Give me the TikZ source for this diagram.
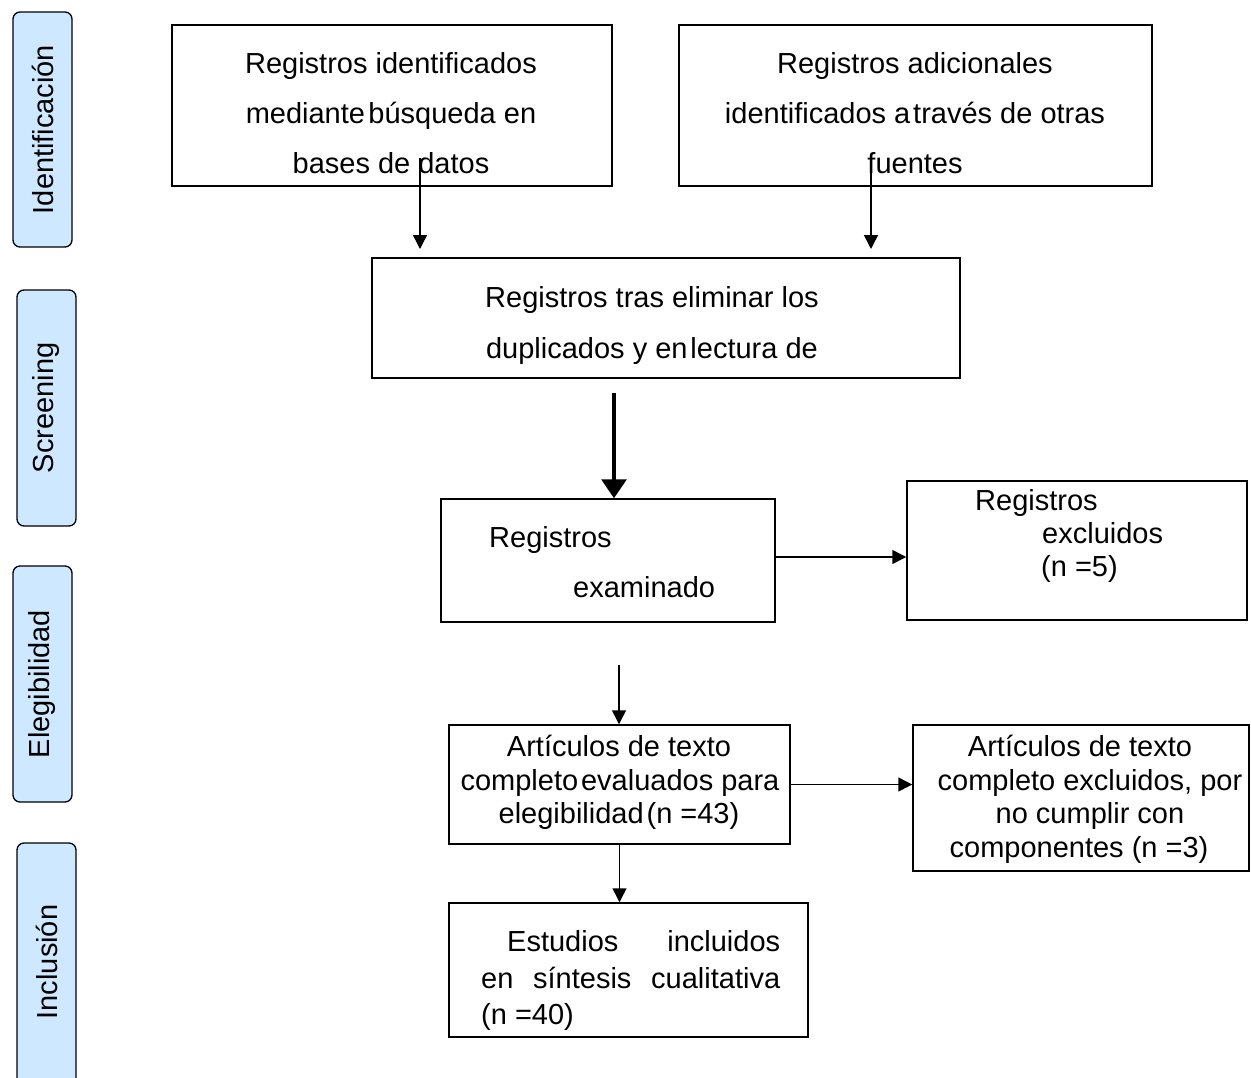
\documentclass[tikz,border=0pt]{standalone}
\usepackage{fontspec}
\setmainfont{Liberation Sans}
\usetikzlibrary{arrows.meta,calc}
\definecolor{tabblue}{RGB}{206,233,255}
\begin{document}
\begin{tikzpicture}[x=1pt,y=-1pt,
  tab/.style={draw=black,fill=tabblue,rounded corners=7pt,line width=1.3pt,minimum width=59pt,inner sep=0pt},
  tabtxt/.style={rotate=90,font=\fontsize{29}{34}\selectfont,inner sep=0pt},
  box/.style={draw=black,line width=1.5pt,inner sep=0pt},
  txt/.style={font=\fontsize{29}{34}\selectfont,inner sep=0pt,anchor=base},
  txtw/.style={font=\fontsize{29}{34}\selectfont,inner sep=0pt,anchor=base west},
  arr/.style={line width=1.5pt,-{Triangle[width=14pt,length=14pt]}},
  bigarr/.style={line width=3.2pt,-{Triangle[width=25pt,length=19pt]}}]
\useasboundingbox (0,0) rectangle (1251,1077);
% side tabs
\node[tab,minimum height=235pt] (t1) at (42.5,129.5) {};
\node[tabtxt] (t1l) at (t1.center) {Identificación};
\node[tab,minimum height=236pt] (t2) at (46.5,408) {};
\node[tabtxt] (t2l) at (t2.center) {Screening};
\node[tab,minimum height=236pt] (t3) at (42.5,684) {};
\node[tabtxt] (t3l) at (t3.center) {Elegibilidad};
\node[tab,minimum height=250pt] (t4) at (46.5,968) {};
\node[tabtxt] (t4l) at (46.5,962) {Inclusión};
% boxes
\node[box,minimum width=440pt,minimum height=161pt] (b1) at (392,105.5) {};
\node[box,minimum width=473pt,minimum height=161pt] (b2) at (915.5,105.5) {};
\node[box,minimum width=588pt,minimum height=120pt] (b3) at (666,318) {};
\node[box,minimum width=334pt,minimum height=123pt] (b4) at (608,560.5) {};
\node[box,minimum width=340pt,minimum height=139pt] (b5) at (1077,550.5) {};
\node[box,minimum width=341pt,minimum height=119pt] (b6) at (619.5,784.5) {};
\node[box,minimum width=336pt,minimum height=146pt] (b7) at (1081,798) {};
\node[box,minimum width=359pt,minimum height=134pt] (b8) at (628.5,970) {};
% texts
\node[txt] (b1a) at (391,73) {Registros identificados};
\node[txt] (b1b) at (391,123) {mediante\hspace{0.12em}búsqueda en};
\node[txt] (b1c) at (391,173) {bases de datos};
\node[txt] (b2a) at (915,73) {Registros adicionales};
\node[txt] (b2b) at (915,123) {identificados a\hspace{0.1em}través de otras};
\node[txt] (b2c) at (915,173) {fuentes};
\node[txt] (b3a) at (652,307) {Registros tras eliminar los};
\node[txt] (b3b) at (652,358) {duplicados y en\hspace{0.1em}lectura de};
\node[txtw] (b4a) at (489,547) {Registros};
\node[txtw] (b4b) at (573,597) {examinado};
\node[txtw] (b5a) at (975,510) {Registros};
\node[txtw] (b5b) at (1042,543) {excluidos};
\node[txtw] (b5c) at (1041,576) {(n =5)};
\node[txt] (b6a) at (619,756) {Artículos de texto};
\node[txt] (b6b) at (620,790) {completo\hspace{0.1em}evaluados para};
\node[txt] (b6c) at (619,823) {elegibilidad\hspace{0.1em}(n =43)};
\node[txt] (b7a) at (1080,756) {Artículos de texto};
\node[txt] (b7b) at (1090,790) {completo excluidos, por};
\node[txt] (b7c) at (1090,823) {no cumplir con};
\node[txt] (b7d) at (1079,857) {componentes (n =3)};
\node[txtw] (b8a) at (507,951) {\makebox[273pt][s]{Estudios incluidos}};
\node[txtw] (b8b) at (481,988) {\makebox[299pt][s]{en síntesis cualitativa}};
\node[txtw] (b8c) at (481,1024) {(n =40)};
% connectors
\coordinate (c1) at (420,158);
\coordinate (c1e) at (420,249);
\coordinate (c2) at (871,158);
\coordinate (c2e) at (871,249);
\coordinate (c3) at (614,393);
\coordinate (c5) at (619,665);
\draw[arr] (c1) -- (c1e);
\draw[arr] (c2) -- (c2e);
\draw[bigarr] (c3) -- (c3 |- b4.north);
\draw[arr] ([yshift=3.5pt]b4.east) coordinate (c4) -- (c4 -| b5.west);
\draw[arr] (c5) -- (c5 |- b6.north);
\draw[arr] (b6.east) -- (b6.east -| b7.west);
\draw[arr] (b6.south) -- (b6.south |- b8.north);
\end{tikzpicture}
\end{document}
